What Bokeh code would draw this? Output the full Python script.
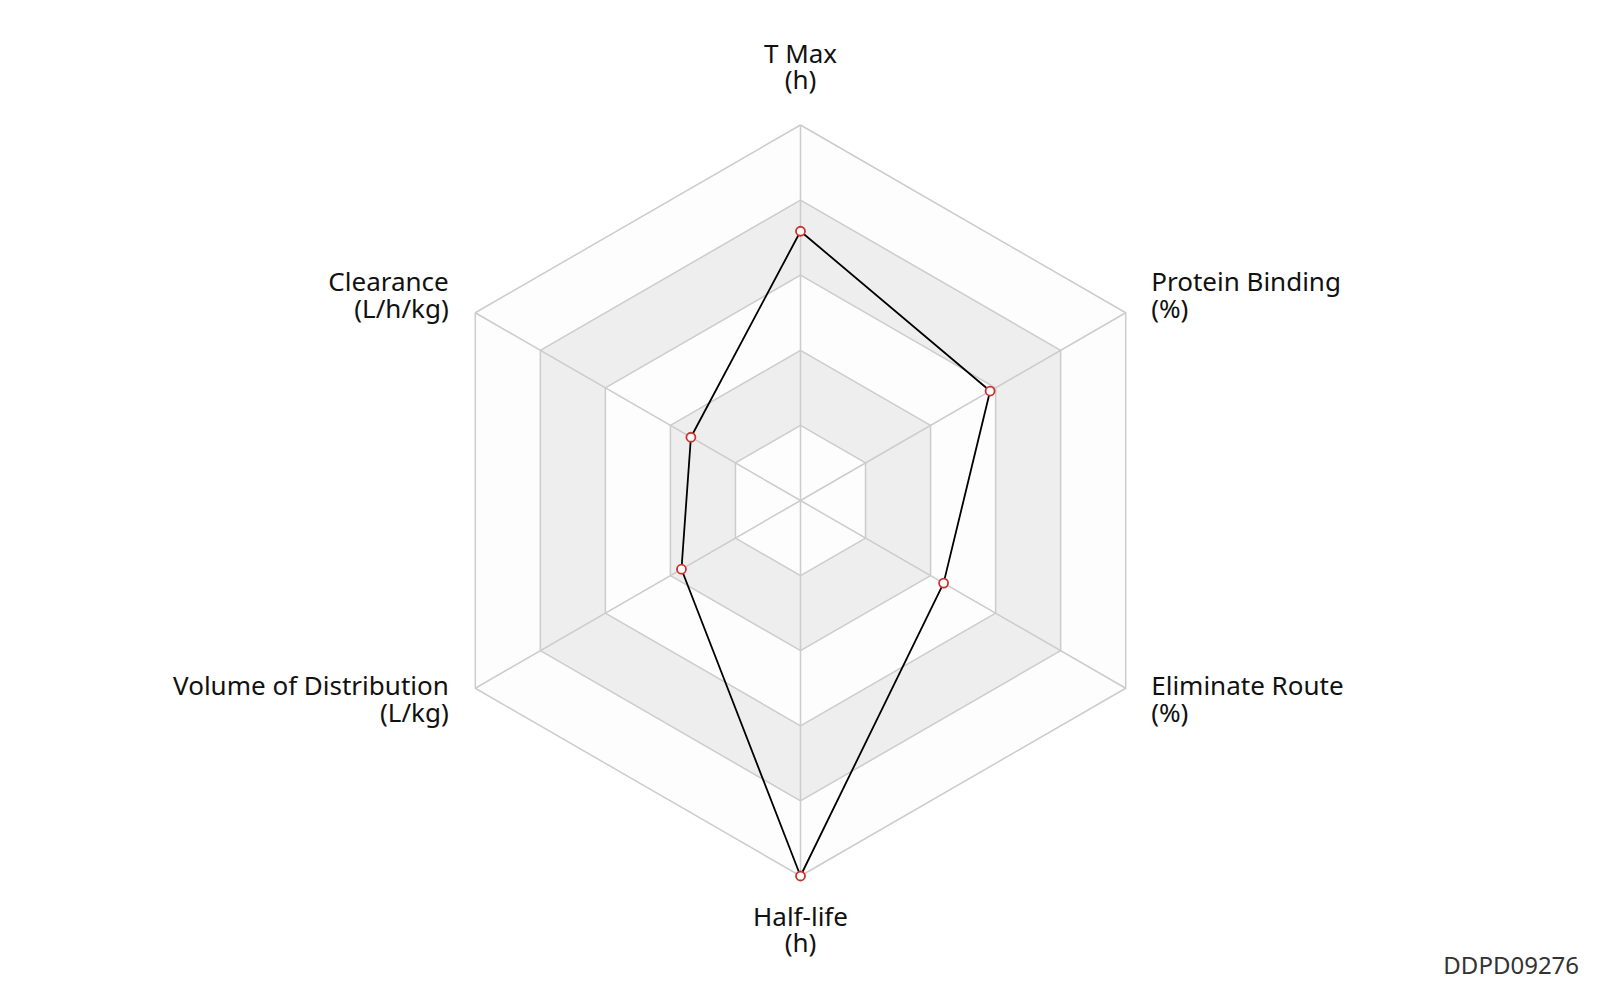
import numpy as np
from bokeh.plotting import figure
from bokeh.models import Range1d, ColumnDataSource
from bokeh.core.properties import value
from bokeh.embed import file_html
from bokeh.resources import INLINE

# ---- data ----
indicators = ["T Max", "Protein Binding", "Eliminate Route", "Half-life",
              "Volume of Distribution", "Clearance"]
units = ["(h)", "(%)", "(%)", "(h)", "(L/kg)", "(L/h/kg)"]
values = [0.717, 0.583, 0.44, 1.0, 0.366, 0.337]   # fraction of axis max
split_levels = [1, 2, 3, 4, 5]
watermark = "DDPD09276"

# ---- layout ----
W, H = 1584, 984
S = 0.98  # layout units per screen pixel
CX, CY, R = 784, 490, 368
FONT = "Noto Sans"
FS = "26px"

p = figure(width=W, height=H, output_backend="svg", toolbar_location=None,
           x_range=Range1d(0, W * S), y_range=Range1d(H * S, 0),
           min_border=0)
p.axis.visible = False
p.grid.visible = False
p.outline_line_color = None
p.background_fill_color = "white"

n = len(indicators)
ang = np.pi / 2 - np.arange(n) * 2 * np.pi / n  # clockwise from top
ux = np.cos(ang)
uy = -np.sin(ang)  # screen y downwards

nlev = len(split_levels)
band_colors = ["#fdfdfd", "#eeeeee"]
for i in reversed(range(nlev)):
    r = R * split_levels[i] / nlev
    p.patch(list(CX + r * ux), list(CY + r * uy),
            fill_color=band_colors[i % 2], line_color=None)
for lv in split_levels:
    r = R * lv / nlev
    xs = list(CX + r * ux) + [CX + r * ux[0]]
    ys = list(CY + r * uy) + [CY + r * uy[0]]
    p.line(xs, ys, line_color="#cccccc", line_width=1.5)
p.multi_line([[CX, CX + R * ux[k]] for k in range(n)],
             [[CY, CY + R * uy[k]] for k in range(n)],
             line_color="#cccccc", line_width=1.5)

vx = CX + R * np.array(values) * ux
vy = CY + R * np.array(values) * uy
p.line(list(vx) + [vx[0]], list(vy) + [vy[0]], line_color="black", line_width=1.8)
p.scatter(vx, vy, size=9, marker="circle", fill_color="white",
          line_color="#d0312d", line_width=1.8)

lab_x, lab_y1, align = [], [], []
for k in range(n):
    vxk = CX + R * ux[k]
    vyk = CY + R * uy[k]
    if abs(ux[k]) < 1e-6:
        a, x = "center", CX
        y1 = vyk - 71 if uy[k] < 0 else vyk + 39
    elif ux[k] > 0:
        a, x = "left", vxk + 25
        y1 = vyk - 31 if uy[k] < 0 else vyk - 3
    else:
        a, x = "right", vxk - 26
        y1 = vyk - 31 if uy[k] < 0 else vyk - 3
    lab_x.append(x)
    lab_y1.append(y1)
    align.append(a)

src = ColumnDataSource(dict(x=lab_x, y1=lab_y1, y2=[y + 26 for y in lab_y1],
                            t1=indicators, t2=units, align=align))
for ycol, tcol in (("y1", "t1"), ("y2", "t2")):
    p.text(x="x", y=ycol, text=tcol, source=src, text_align="align",
           text_baseline="middle", text_font=value(FONT), text_font_size=FS,
           text_color="#111111")

p.text(x=[1547], y=[945], text=[watermark], text_align="right",
       text_baseline="middle", text_font=value(FONT), text_font_size="24px",
       text_color="#333333")

open("out.html", "w").write(file_html(p, INLINE))
